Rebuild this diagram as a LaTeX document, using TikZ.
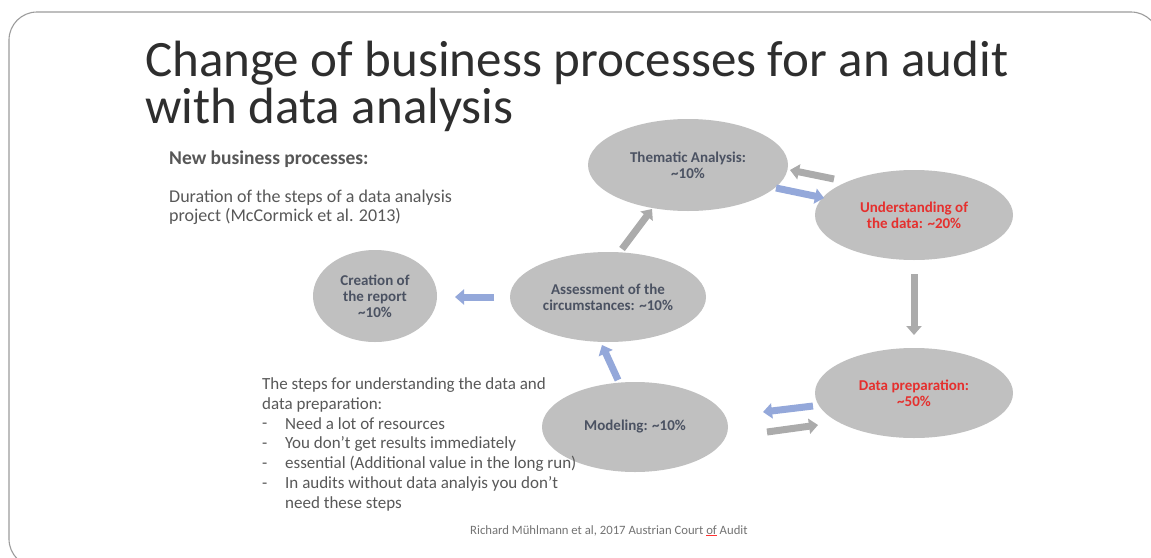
\documentclass[tikz,border=0pt]{standalone}
\usepackage{fontspec}
\setmainfont{Carlito}
\usetikzlibrary{arrows.meta,shapes.geometric}
\definecolor{ellfill}{HTML}{C0C0C0}
\definecolor{elltext}{HTML}{4B5262}
\definecolor{redtext}{HTML}{E5302E}
\definecolor{bluearr}{HTML}{94A8DA}
\definecolor{grayarr}{HTML}{ABABAB}
\definecolor{bodytext}{HTML}{585858}
\definecolor{frameline}{HTML}{9C9C9C}
\tikzset{
  proc/.style={ellipse, fill=ellfill, inner sep=0pt, minimum width=#1, align=center,
     font=\fontsize{15}{16}\selectfont\bfseries, text=elltext},
  garrow/.style={draw=grayarr, line width=7pt, -{Triangle[width=15pt,length=9pt]}},
  barrow/.style={draw=bluearr, line width=7pt, -{Triangle[width=15pt,length=9pt]}},
  bodyfont/.style={font=\fontsize{17}{19.7}\selectfont, text=bodytext},
}
\begin{document}
\begin{tikzpicture}[x=1pt,y=-1pt]
\useasboundingbox (0,0) rectangle (1151,557);
\clip (0,0) rectangle (1151,557);
\fill[white] (0,0) rectangle (1151,557);
\draw[frameline, line width=1.1pt, rounded corners=28pt] (9,12) rectangle (1159,567);

% title
\node[anchor=base west, inner sep=0pt, align=left, font=\fontsize{51}{47}\selectfont, text=black!82] (title) at (145,123)
  {Change of business processes for an audit\\with data analysis};

\node[anchor=base west, inner sep=0pt, font=\fontsize{19.5}{22}\selectfont\bfseries, text=black!66] (nbp) at (169,164) {New business processes:};
\node[anchor=base west, inner sep=0pt, align=left, font=\fontsize{18}{19}\selectfont, text=bodytext] (dur) at (169,221)
  {Duration of the steps of a data analysis\\project (McCormick et al. 2013)};

% ellipses
\node[proc=200pt, minimum height=92pt] (them) at (688,165) {Thematic Analysis:\\\textasciitilde10\%};
\node[proc=198pt, minimum height=90pt, text=redtext] (und) at (914,215) {Understanding of\\the data: \textasciitilde20\%};
\node[proc=198pt, minimum height=90pt, text=redtext] (prep) at (914,393) {Data preparation:\\\textasciitilde50\%};
\node[proc=186pt, minimum height=90pt] (mod) at (635,427) {Modeling: \textasciitilde10\%};
\node[proc=196pt, minimum height=90pt] (ass) at (608,297) {Assessment of the\\circumstances: \textasciitilde10\%};
\node[proc=124pt, minimum height=92pt] (rep) at (375,296) {Creation of\\the report\\\textasciitilde10\%};

% arrow end points
\coordinate (a1s) at (622,249); \coordinate (a1e) at (652,209);
\coordinate (a2s) at (834,179); \coordinate (a2e) at (790,170);
\coordinate (a3s) at (776,188); \coordinate (a3e) at (824,198);
\coordinate (a4s) at (914,274); \coordinate (a4e) at (914,335);
\coordinate (a5s) at (813,406); \coordinate (a5e) at (763,412);
\coordinate (a6s) at (767,432); \coordinate (a6e) at (818,425);
\coordinate (a7s) at (618,380); \coordinate (a7e) at (602,345);
\coordinate (a8s) at (494,297); \coordinate (a8e) at (455,297);

\draw[garrow] (a1s) -- (a1e);
\draw[garrow] (a2s) -- (a2e);
\draw[barrow] (a3s) -- (a3e);
\draw[garrow] (a4s) -- (a4e);
\draw[barrow] (a5s) -- (a5e);
\draw[garrow] (a6s) -- (a6e);
\draw[barrow] (a7s) -- (a7e);
\draw[barrow] (a8s) -- (a8e);

% lower-left text
\node[anchor=base west, inner sep=0pt, align=left, bodyfont] (steps) at (262,409)
  {The steps for understanding the data and\\data preparation:};
\node[anchor=base west, inner sep=0pt, align=left, bodyfont] (dashes) at (262,488)
  {-\\-\\-\\-};
\node[anchor=base west, inner sep=0pt, align=left, bodyfont] (items) at (285,508)
  {Need a lot of resources\\You don’t get results immediately\\essential (Additional value in the long run)\\In audits without data analyis you don’t\\need these steps};

\node[anchor=base west, inner sep=0pt, font=\fontsize{12.7}{14}\selectfont, text=black!55] (credit) at (470,534)
  {Richard Mühlmann et al, 2017 Austrian Court {\color{red!80}\underline{\color{black!55}of}} Audit};
\end{tikzpicture}
\end{document}
